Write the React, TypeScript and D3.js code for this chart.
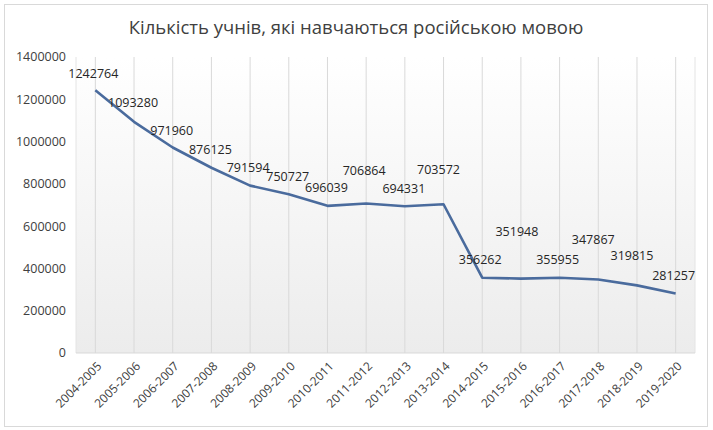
import { useMemo } from "react";
import * as d3 from "d3";

// school years and number of pupils taught in Russian
const years = [
  "2004-2005", "2005-2006", "2006-2007", "2007-2008", "2008-2009", "2009-2010",
  "2010-2011", "2011-2012", "2012-2013", "2013-2014", "2014-2015", "2015-2016",
  "2016-2017", "2017-2018", "2018-2019", "2019-2020",
];
const students = [
  1242764, 1093280, 971960, 876125, 791594, 750727, 696039, 706864,
  694331, 703572, 356262, 351948, 355955, 347867, 319815, 281257,
];
const yTicks = [0, 200000, 400000, 600000, 800000, 1000000, 1200000, 1400000];

// how far each data label sits above / beside its point (px), as placed in the source
const labelLift = [17, 19, 17, 18, 18, 18, 18, 33, 18, 35, 18, 47, 18, 40, 30, 18];
const labelShift = [-2, -1, -1, -1, -2, -1, -1, -2, -1, -5, -2, -4, -2, -5, -5, -2];

const title = "Кількість учнів, які навчаються російською мовою";

export default function App() {
  const width = 713;
  const height = 430;
  const plot = { left: 76, right: 695, top: 57, bottom: 353 };
  const font = "'Open Sans', 'DejaVu Sans', sans-serif";

  const x = useMemo(
    () => d3.scaleBand<string>().domain(years).range([plot.left, plot.right]),
    []
  );
  const y = useMemo(
    () => d3.scaleLinear().domain([0, 1400000]).range([plot.bottom, plot.top]),
    []
  );
  const cx = (d: string) => (x(d) ?? 0) + x.bandwidth() / 2;

  const linePath = d3
    .line<number>()
    .x((_, i) => cx(years[i]))
    .y((d) => y(d))(students);

  return (
    <svg
      width={width}
      height={height}
      style={{ position: "absolute", left: 0, top: 0, background: "#fff" }}
      fontFamily={font}
    >
      <defs>
        <linearGradient id="plotBg" x1="0" y1="0" x2="0" y2="1">
          <stop offset="0%" stopColor="#ffffff" />
          <stop offset="100%" stopColor="#ececec" />
        </linearGradient>
      </defs>

      {/* outer frame */}
      <rect x={4.5} y={4.5} width={703} height={422} fill="#fff" stroke="#d9d9d9" />

      <text x={356} y={34} textAnchor="middle" fontSize={18.5} fill="#404040">
        {title}
      </text>

      {/* plot background */}
      <rect
        x={plot.left}
        y={plot.top}
        width={plot.right - plot.left}
        height={plot.bottom - plot.top}
        fill="url(#plotBg)"
      />

      {/* vertical gridlines */}
      {years.map((d) => (
        <line
          key={d}
          x1={cx(d)}
          x2={cx(d)}
          y1={plot.top}
          y2={plot.bottom}
          stroke="#d9d9d9"
        />
      ))}
      <line x1={plot.left} x2={plot.left} y1={plot.top} y2={plot.bottom} stroke="#e4e4e4" />
      <line x1={plot.right} x2={plot.right} y1={plot.top} y2={plot.bottom} stroke="#e4e4e4" />
      <line x1={plot.left} x2={plot.right} y1={plot.bottom} y2={plot.bottom} stroke="#d9d9d9" />

      {/* y axis labels */}
      {yTicks.map((t) => (
        <text
          key={t}
          x={66}
          y={y(t)}
          dy="0.35em"
          textAnchor="end"
          fontSize={12.5}
          fill="#404040"
        >
          {t}
        </text>
      ))}

      {/* x axis labels */}
      {years.map((d) => (
        <text
          key={d}
          transform={`translate(${cx(d) + 4},${plot.bottom + 11}) rotate(-45)`}
          textAnchor="end"
          dy="0.35em"
          fontSize={12}
          fill="#404040"
        >
          {d}
        </text>
      ))}

      <path
        d={linePath ?? undefined}
        fill="none"
        stroke="#4a6b9d"
        strokeWidth={2.6}
        strokeLinejoin="round"
      />

      {/* data labels */}
      {students.map((v, i) => (
        <text
          key={years[i]}
          x={cx(years[i]) + labelShift[i]}
          y={y(v) - labelLift[i]}
          dy="0.35em"
          textAnchor="middle"
          fontSize={12.5}
          fill="#262626"
        >
          {v}
        </text>
      ))}
    </svg>
  );
}
